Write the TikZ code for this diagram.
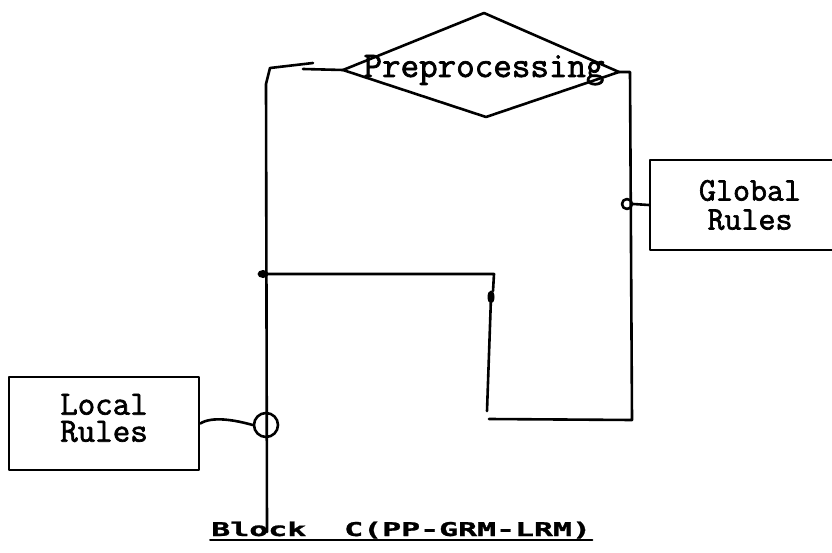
\documentclass[tikz,border=0pt]{standalone}
\usepackage{fontspec}
\usepackage{graphicx}
\usetikzlibrary{shapes.geometric}
\newfontfamily\typew[FakeBold=2]{Latin Modern Mono}
\newfontfamily\blockf[FakeBold=1]{DejaVu Sans Mono}
\begin{document}
\begin{tikzpicture}[x=1pt,y=-1pt, line width=2.6pt, line cap=round, line join=round,
 box/.style={draw, rectangle, inner sep=0pt},
 lbl/.style={align=center, inner sep=0pt, font=\typew\fontsize{34}{27}\selectfont},
 ring/.style={draw, circle, inner sep=0pt},
 blob/.style={fill, ellipse, inner sep=0pt}]
\useasboundingbox (0,0) rectangle (832,553);
\clip (0,0) rectangle (832,553);

% diamond
\coordinate (dT) at (484,13);
\coordinate (dL) at (343,70);
\coordinate (dR) at (619,72);
\coordinate (dB) at (486,117);
\draw (dT) -- (dR) -- (dB) -- (dL) -- cycle;
\node[lbl, anchor=base, font=\typew\fontsize{36}{27}\selectfont] (pre) at (484,77) {Preprocessing};

% left line
\coordinate (lA) at (303,69);
\coordinate (lB) at (313,63);
\coordinate (lC) at (270,68);
\coordinate (lD) at (266,84);
\coordinate (lBot) at (267,532);
\draw (dL) -- (lA);
\draw (lB) -- (lC) -- (lD) -- (lBot);

% right line
\coordinate (rA) at (630,72);
\coordinate (rB) at (632,420);
\coordinate (rC) at (489,419);
\draw (dR) -- (rA) -- (rB) -- (rC);

% global rules
\node[box, minimum width=200, minimum height=90] (global) at (750,205) {};
\node[lbl, font=\typew\fontsize{33}{29}\selectfont] (globalt) at (750,205) {Global\\Rules};
\node[ring, minimum size=10] (gc) at (627,204) {};
\draw (gc.east) -- (global.west);

% local rules
\node[box, minimum width=190, minimum height=93] (local) at (104,423.5) {};
\node[lbl] (localt) at (104,418) {Local\\Rules};
\node[ring, minimum size=24] (lc) at (266,425) {};
\draw (local.east) .. controls (212,416) and (235,420) .. (lc.west);

% inner loop
\node[blob, minimum width=11, minimum height=8] (j1) at (263,274) {};
\coordinate (hR) at (494,274);
\coordinate (hD) at (493,291);
\draw (j1.center) -- (hR) -- (hD);
\node[blob, minimum width=7, minimum height=13] (j2) at (491,297) {};
\coordinate (sB) at (487,411);
\draw (j2.center) -- (sB);

% caption
\node[anchor=base west, inner sep=0pt, font=\blockf\bfseries\fontsize{19}{19}\selectfont] (blk) at (210,536) {\scalebox{1.66}[1]{Block\ \ C(PP-GRM-LRM)}};
\draw[line width=2pt] ([yshift=-3.5pt]blk.base west) -- ([yshift=-3.5pt]blk.base east);
\end{tikzpicture}
\end{document}
